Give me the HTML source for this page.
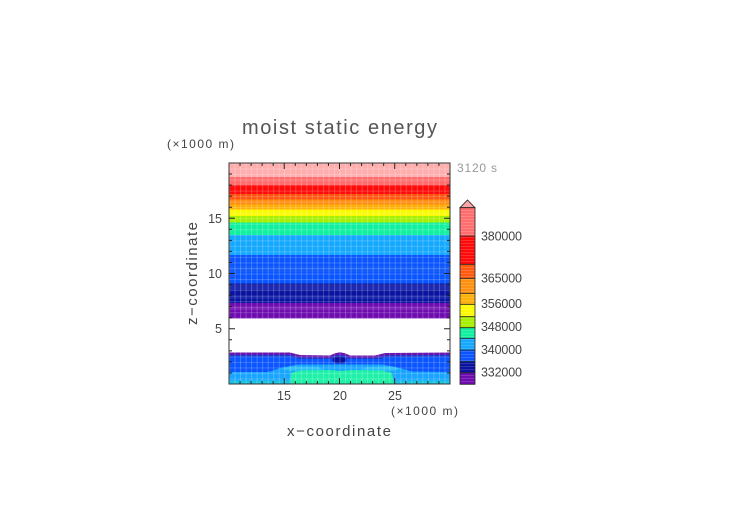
<!DOCTYPE html>
<html>
<head>
<meta charset="utf-8">
<style>
  html,body{margin:0;padding:0;background:#fff;}
  svg{display:block;}
  text{font-family:"Liberation Sans",sans-serif;}
</style>
</head>
<body>
<svg width="752" height="532" viewBox="0 0 752 532" xmlns="http://www.w3.org/2000/svg">
  <defs>
    <pattern id="grid" x="229" y="163" width="5.525" height="5.525" patternUnits="userSpaceOnUse">
      <line x1="0.5" y1="0" x2="0.5" y2="5.525" stroke="#fff" stroke-opacity="0.22" stroke-width="1"/>
      <line x1="0" y1="0.5" x2="5.525" y2="0.5" stroke="#fff" stroke-opacity="0.18" stroke-width="1"/>
    </pattern>
    <pattern id="cbstripe" x="460" y="207" width="15" height="3" patternUnits="userSpaceOnUse">
      <line x1="0" y1="0.5" x2="15" y2="0.5" stroke="#fff" stroke-opacity="0.15" stroke-width="1"/>
    </pattern>
    <clipPath id="plotclip"><rect x="229" y="163" width="221" height="221"/></clipPath>
  </defs>

  <rect width="752" height="532" fill="#fff"/>

  <!-- Title -->
  <text x="242" y="134" font-size="20" fill="#555" textLength="195" lengthAdjust="spacing">moist static energy</text>
  <text x="167" y="148" font-size="12" fill="#444" textLength="67" lengthAdjust="spacing">(×1000 m)</text>
  <text x="457" y="172" font-size="12" fill="#999" textLength="40" lengthAdjust="spacing">3120 s</text>

  <g clip-path="url(#plotclip)">
    <!-- upper bands -->
    <rect x="229" y="163" width="221" height="14" fill="#ffaeae"/>
    <rect x="229" y="177" width="221" height="8" fill="#ff6e6e"/>
    <rect x="229" y="185" width="221" height="9" fill="#ff0a0a"/>
    <rect x="229" y="194" width="221" height="5.5" fill="#ff5410"/>
    <rect x="229" y="199.5" width="221" height="5" fill="#ff8c10"/>
    <rect x="229" y="204.5" width="221" height="5" fill="#ffae08"/>
    <rect x="229" y="209.5" width="221" height="6.5" fill="#fafa00"/>
    <rect x="229" y="216" width="221" height="6.5" fill="#a6f000"/>
    <rect x="229" y="222.5" width="221" height="12.5" fill="#10f0a0"/>
    <rect x="229" y="235" width="221" height="20" fill="#14a8ff"/>
    <rect x="229" y="255" width="221" height="28.5" fill="#0a55ff"/>
    <rect x="229" y="266" width="221" height="6" fill="#1a60f5" opacity="0.6"/>
    <rect x="229" y="283.5" width="221" height="19.5" fill="#0a12a0"/>
    <rect x="229" y="286" width="221" height="4" fill="#2535b5" opacity="0.7"/>
    <rect x="229" y="296" width="221" height="3" fill="#2535b5" opacity="0.6"/>
    <rect x="229" y="303" width="221" height="15.5" fill="#6e0cb0"/>
    <rect x="229" y="307" width="221" height="3" fill="#8a30c0" opacity="0.6"/>

    <!-- lower region -->
    <path d="M229,352.5 L290,352.5 L300,355 L330,355.5 L335,353.2 L340,352.3 L345,353.2 L350,355.5 L375,355.5 L385,353 L450,352.5 L450,385 L229,385 Z" fill="#6a14b0"/>
    <path d="M229,354.8 L290,354.8 L300,357.3 L330,357.8 L335,355.5 L340,354.6 L345,355.5 L350,357.8 L375,357.8 L385,355.3 L450,354.8 L450,385 L229,385 Z" fill="#2236c8"/>
    <path d="M229,356.5 L290,356.5 L300,359 L380,359 L388,357 L450,356.5 L450,385 L229,385 Z" fill="#0a55ff"/>
    <ellipse cx="339.5" cy="360" rx="7" ry="3.5" fill="#0a12a0"/>
    <path d="M229,372 L268,372 L282,367.5 L298,364.5 L382,364.5 L398,367.5 L412,371.5 L450,372 L450,385 L229,385 Z" fill="#18a4ff"/>
    <path d="M282,369 L292,366.5 L318,367 L324,370 L290,371 Z" fill="#30c4f4" opacity="0.8"/>
    <path d="M362,370 L366,367 L392,366.5 L400,369 L392,371 Z" fill="#30c4f4" opacity="0.8"/>
    <path d="M290,384 L291,373 L300,370.5 L330,370 L340,371 L352,370 L382,370.5 L392,373 L394,384 Z" fill="#1ef0a8"/>
    <path d="M229,380.5 L291,380.5 L291,385 L229,385 Z" fill="#1ac4e4"/>
    <path d="M394,380.5 L450,380.5 L450,385 L394,385 Z" fill="#1ac4e4"/>

    <!-- grid overlay -->
    <rect x="229" y="163" width="221" height="155.5" fill="url(#grid)"/>
    <rect x="229" y="352" width="221" height="33" fill="url(#grid)"/>
  </g>

  <!-- Frame -->
  <rect x="229" y="163" width="221" height="221" fill="none" stroke="#333" stroke-width="1"/>

  <!-- Ticks -->
  <g stroke="#222" stroke-width="1">
    <path d="M240.05,384v-3M251.1,384v-3M262.15,384v-3M273.2,384v-3M295.3,384v-3M306.35,384v-3M317.4,384v-3M328.45,384v-3M350.55,384v-3M361.6,384v-3M372.65,384v-3M383.7,384v-3M405.8,384v-3M416.85,384v-3M427.9,384v-3M438.95,384v-3"/>
    <path d="M240.05,163v3M251.1,163v3M262.15,163v3M273.2,163v3M295.3,163v3M306.35,163v3M317.4,163v3M328.45,163v3M350.55,163v3M361.6,163v3M372.65,163v3M383.7,163v3M405.8,163v3M416.85,163v3M427.9,163v3M438.95,163v3"/>
    <path d="M284.25,384v-6M339.5,384v-6M394.75,384v-6M284.25,163v6M339.5,163v6M394.75,163v6"/>
    <path d="M229,372.95h3M229,361.9h3M229,350.85h3M229,339.8h3M229,317.7h3M229,306.65h3M229,295.6h3M229,284.55h3M229,262.45h3M229,251.4h3M229,240.35h3M229,229.3h3M229,207.2h3M229,196.15h3M229,185.1h3M229,174.05h3"/>
    <path d="M450,372.95h-3M450,361.9h-3M450,350.85h-3M450,339.8h-3M450,317.7h-3M450,306.65h-3M450,295.6h-3M450,284.55h-3M450,262.45h-3M450,251.4h-3M450,240.35h-3M450,229.3h-3M450,207.2h-3M450,196.15h-3M450,185.1h-3M450,174.05h-3"/>
    <path d="M229,328.75h6M229,273.5h6M229,218.25h6M450,328.75h-6M450,273.5h-6M450,218.25h-6"/>
  </g>

  <!-- Tick labels -->
  <g font-size="12.5" fill="#444" text-anchor="middle">
    <text x="284" y="400">15</text>
    <text x="340" y="400">20</text>
    <text x="395" y="400">25</text>
  </g>
  <g font-size="12.5" fill="#444" text-anchor="end">
    <text x="222" y="333">5</text>
    <text x="222" y="278">10</text>
    <text x="222" y="223">15</text>
  </g>
  <text x="391" y="415" font-size="12" fill="#444" textLength="67" lengthAdjust="spacing">(×1000 m)</text>

  <!-- Axis titles -->
  <text x="287" y="436" font-size="15" fill="#444" textLength="104" lengthAdjust="spacing">x−coordinate</text>
  <text transform="translate(197,325) rotate(-90)" font-size="15" fill="#444" textLength="103" lengthAdjust="spacing">z−coordinate</text>

  <!-- Colorbar -->
  <polygon points="460,207.7 467.5,200 475,207.7" fill="#ffa4a4" stroke="#222" stroke-width="0.8"/>
  <rect x="460" y="207.7" width="15" height="28.3" fill="#ff6e6e"/>
  <rect x="460" y="236" width="15" height="28.3" fill="#ff0a0a"/>
  <rect x="460" y="264.3" width="15" height="14" fill="#ff5a10"/>
  <rect x="460" y="278.3" width="15" height="15" fill="#ff9010"/>
  <rect x="460" y="293.3" width="15" height="11" fill="#ffb008"/>
  <rect x="460" y="304.3" width="15" height="12.4" fill="#fafa00"/>
  <rect x="460" y="316.7" width="15" height="11" fill="#a6f000"/>
  <rect x="460" y="327.7" width="15" height="10.6" fill="#10f0a0"/>
  <rect x="460" y="338.3" width="15" height="11.7" fill="#14a8ff"/>
  <rect x="460" y="350" width="15" height="11.7" fill="#0a55ff"/>
  <rect x="460" y="361.7" width="15" height="11" fill="#0a12a0"/>
  <rect x="460" y="372.7" width="15" height="11.6" fill="#6e0cb0"/>
  <rect x="460" y="207.7" width="15" height="176.6" fill="url(#cbstripe)"/>
  <g stroke="#222" stroke-width="0.8">
    <path d="M460,236h15M460,264.3h15M460,278.3h15M460,293.3h15M460,304.3h15M460,316.7h15M460,327.7h15M460,338.3h15M460,350h15M460,361.7h15M460,372.7h15"/>
  </g>
  <rect x="460" y="207.7" width="15" height="176.6" fill="none" stroke="#222" stroke-width="0.8"/>

  <g font-size="12.5" fill="#444">
    <text x="481" y="240.5" textLength="41" lengthAdjust="spacing">380000</text>
    <text x="481" y="282.5" textLength="41" lengthAdjust="spacing">365000</text>
    <text x="481" y="308" textLength="41" lengthAdjust="spacing">356000</text>
    <text x="481" y="331" textLength="41" lengthAdjust="spacing">348000</text>
    <text x="481" y="354" textLength="41" lengthAdjust="spacing">340000</text>
    <text x="481" y="376.5" textLength="41" lengthAdjust="spacing">332000</text>
  </g>
</svg>
</body>
</html>
